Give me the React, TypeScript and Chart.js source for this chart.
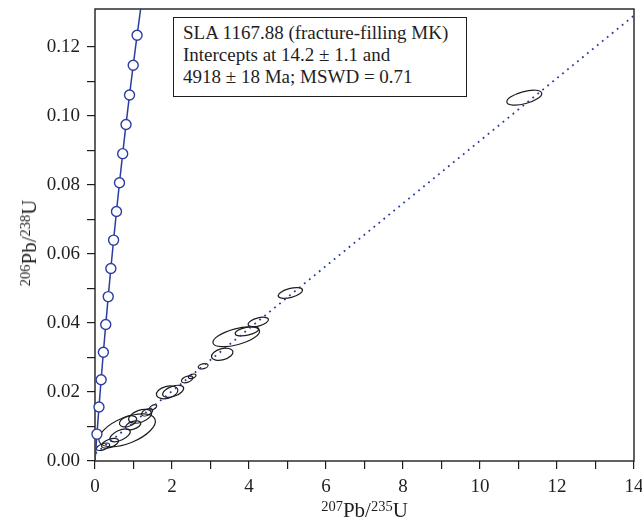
import React, { useEffect, useLayoutEffect, useRef } from 'react';
import { Chart, registerables } from 'chart.js';

Chart.register(...registerables);

// Concordia curve: ratio pairs at 50 Ma steps (50 … 750 Ma)
const concordiaAgesMa = [50, 100, 150, 200, 250, 300, 350, 400, 450, 500, 550, 600, 650, 700, 750];
const concordiaX = [0.0505, 0.1035, 0.1592, 0.2177, 0.2792, 0.3437, 0.4116, 0.4828, 0.5577, 0.6363, 0.7189, 0.8056, 0.8968, 0.9925, 1.093];
const concordiaY = [0.00779, 0.01563, 0.02354, 0.03151, 0.03954, 0.04764, 0.0558, 0.06402, 0.0723, 0.08065, 0.08907, 0.09754, 0.10609, 0.1147, 0.12338];
const concordiaStart = { x: 0, y: 0 };
const concordiaEnd = { x: 1.1988, y: 0.13213 };

// Discordia: lower intercept (14.2 Ma) to upper intercept (4918 Ma)
const discordiaX = [0.01408, 125.9];
const discordiaY = [0.00221, 1.1444];

// Error ellipses: centre, half-extents and correlation
const ellipseX = [0.208, 0.39, 0.651, 0.833, 0.859, 0.99, 1.171, 1.353, 1.509, 1.874, 2.03, 2.394, 2.524, 2.81, 3.305, 3.669, 3.947, 4.241, 5.074, 11.15];
const ellipseY = [0.00412, 0.00513, 0.00745, 0.0089, 0.0115, 0.01035, 0.01296, 0.01412, 0.01557, 0.0199, 0.0202, 0.02368, 0.02455, 0.02745, 0.03093, 0.036, 0.0376, 0.0403, 0.0487, 0.1053];
const ellipseSX = [0.173, 0.223, 0.265, 0.734, 0.225, 0.2, 0.298, 0.145, 0.094, 0.279, 0.273, 0.149, 0.099, 0.127, 0.279, 0.606, 0.306, 0.265, 0.316, 0.454];
const ellipseSY = [0.00107, 0.00141, 0.00188, 0.00478, 0.00163, 0.0013, 0.00202, 0.00108, 0.00077, 0.00187, 0.00175, 0.00101, 0.00067, 0.00079, 0.00175, 0.00287, 0.00134, 0.00137, 0.00157, 0.00216];
const ellipseRho = [0.52, 0.5, 0.56, 0.55, 0.37, 0.45, 0.43, 0.5, 0.54, 0.31, 0.49, 0.43, 0.44, 0.35, 0.35, 0.56, 0.48, 0.49, 0.52, 0.55];

const xTickLabels = [0, 2, 4, 6, 8, 10, 12, 14];
const yTickLabels = ['0.00', '0.02', '0.04', '0.06', '0.08', '0.10', '0.12'];

const infoLines = [
  'SLA 1167.88 (fracture-filling MK)',
  'Intercepts at 14.2 ± 1.1 and',
  '4918 ± 18 Ma; MSWD = 0.71',
];

const BLUE = '#2b3d9e';
const INK = '#1e1e1e';
const SERIF = "'Liberation Serif', 'Times New Roman', serif";

const ellipsePlugin = {
  id: 'ellipses',
  beforeDatasetsDraw(chart: any) {
    const { ctx, chartArea, scales } = chart;
    const xs = scales.x;
    const ys = scales.y;
    ctx.save();
    ctx.beginPath();
    ctx.rect(chartArea.left, chartArea.top, chartArea.right - chartArea.left, chartArea.bottom - chartArea.top);
    ctx.clip();
    const kx = Math.abs(xs.getPixelForValue(1) - xs.getPixelForValue(0));
    const ky = Math.abs(ys.getPixelForValue(0) - ys.getPixelForValue(0.1)) / 0.1;
    ctx.strokeStyle = INK;
    ctx.lineWidth = 1.2;
    for (let i = 0; i < ellipseX.length; i++) {
      const px = xs.getPixelForValue(ellipseX[i]);
      const py = ys.getPixelForValue(ellipseY[i]);
      const a = ellipseSX[i] * kx;
      const b = ellipseSY[i] * ky;
      const sxx = a * a;
      const syy = b * b;
      const sxy = -ellipseRho[i] * a * b;
      const mean = (sxx + syy) / 2;
      const d = (sxx - syy) / 2;
      const r = Math.sqrt(d * d + sxy * sxy);
      const l1 = mean + r;
      const l2 = Math.max(mean - r, 0.01);
      const phi = 0.5 * Math.atan2(2 * sxy, sxx - syy);
      ctx.beginPath();
      ctx.ellipse(px, py, Math.sqrt(l1), Math.sqrt(l2), phi, 0, Math.PI * 2);
      ctx.stroke();
    }
    ctx.restore();
  },
};

const framePlugin = {
  id: 'frame',
  beforeDatasetsDraw(chart: any) {
    const { ctx, chartArea } = chart;
    ctx.save();
    ctx.strokeStyle = INK;
    ctx.lineWidth = 1.4;
    ctx.strokeRect(chartArea.left, chartArea.top, chartArea.right - chartArea.left, chartArea.bottom - chartArea.top);
    ctx.restore();
  },
};

export default function App() {
  const canvasRef = useRef<HTMLCanvasElement | null>(null);

  useLayoutEffect(() => {
    document.body.style.margin = '0';
  }, []);

  useEffect(() => {
    if (!canvasRef.current) return;
    const curve = [concordiaStart, ...concordiaX.map((x, i) => ({ x, y: concordiaY[i] })), concordiaEnd];
    const markers = concordiaX.map((x, i) => ({ x, y: concordiaY[i], age: concordiaAgesMa[i] }));
    const discordia = discordiaX.map((x, i) => ({ x, y: discordiaY[i] }));

    const chart = new Chart(canvasRef.current, {
      type: 'scatter',
      data: {
        datasets: [
          {
            data: markers,
            showLine: false,
            clip: false,
            pointRadius: 5,
            pointBorderWidth: 1.4,
            pointBackgroundColor: '#ffffff',
            pointBorderColor: BLUE,
          },
          {
            data: curve,
            showLine: true,
            borderColor: BLUE,
            borderWidth: 1.5,
            pointRadius: 0,
            tension: 0,
          },
          {
            data: discordia,
            showLine: true,
            borderColor: BLUE,
            borderWidth: 1.8,
            borderDash: [1.8, 4.6],
            borderCapStyle: 'butt',
            pointRadius: 0,
          },
        ],
      } as any,
      options: {
        animation: false,
        responsive: true,
        maintainAspectRatio: false,
        events: [],
        layout: { padding: { left: 0, right: 8, top: 9, bottom: 0 } },
        plugins: { legend: { display: false }, tooltip: { enabled: false } },
        scales: {
          x: {
            type: 'linear',
            min: 0,
            max: 14,
            border: { display: false },
            grid: { display: true, drawOnChartArea: false, drawTicks: true, tickLength: 8, color: INK, lineWidth: 1.2 },
            ticks: {
              stepSize: 1,
              padding: 7,
              color: INK,
              font: { family: SERIF, size: 19 },
              maxRotation: 0,
              autoSkip: false,
              callback: (v: any) => {
                const n = Math.round(Number(v));
                return xTickLabels.includes(n) ? String(n) : '';
              },
            },
            afterFit: (scale: any) => {
              scale.height = 62;
              scale.paddingLeft = 0;
              scale.paddingRight = 0;
            },
          },
          y: {
            type: 'linear',
            min: 0,
            max: 0.131,
            border: { display: false },
            grid: { display: true, drawOnChartArea: false, drawTicks: true, tickLength: 8, color: INK, lineWidth: 1.2 },
            ticks: {
              stepSize: 0.01,
              padding: 7,
              color: INK,
              font: { family: SERIF, size: 19 },
              autoSkip: false,
              callback: (v: any) => {
                const s = Number(v).toFixed(2);
                return yTickLabels.includes(s) ? s : '';
              },
            },
            afterBuildTicks: (scale: any) => {
              scale.ticks = scale.ticks.filter((t: any) => t.value <= 0.1301);
            },
            afterFit: (scale: any) => {
              scale.width = 95;
              scale.paddingTop = 0;
              scale.paddingBottom = 0;
            },
          },
        },
      } as any,
      plugins: [ellipsePlugin, framePlugin],
    });
    return () => chart.destroy();
  }, []);

  const supStyle: React.CSSProperties = { fontSize: 14.5, verticalAlign: '6px' };

  return (
    <div style={{ position: 'relative', width: 642, height: 523, background: '#fff' }}>
      <canvas ref={canvasRef} />
      <div
        style={{
          position: 'absolute',
          left: 173,
          top: 17,
          width: 294,
          height: 80,
          boxSizing: 'border-box',
          border: `1.4px solid ${INK}`,
          background: '#fff',
          padding: '4px 0 0 9px',
          fontFamily: SERIF,
          fontSize: 19,
          lineHeight: '22px',
          color: INK,
          whiteSpace: 'nowrap',
        }}
      >
        {infoLines.map((l, i) => (
          <div key={i}>{l}</div>
        ))}
      </div>
      <div
        style={{
          position: 'absolute',
          left: 364.5,
          top: 508,
          transform: 'translate(-50%, -50%)',
          fontFamily: SERIF,
          fontSize: 21,
          lineHeight: '24px',
          color: INK,
          whiteSpace: 'nowrap',
        }}
      >
        <span style={supStyle}>207</span>Pb/<span style={supStyle}>235</span>U
      </div>
      <div
        style={{
          position: 'absolute',
          left: 27,
          top: 243,
          transform: 'translate(-50%, -50%) rotate(-90deg)',
          fontFamily: SERIF,
          fontSize: 21,
          lineHeight: '24px',
          color: INK,
          whiteSpace: 'nowrap',
        }}
      >
        <span style={supStyle}>206</span>Pb/<span style={supStyle}>238</span>U
      </div>
    </div>
  );
}
